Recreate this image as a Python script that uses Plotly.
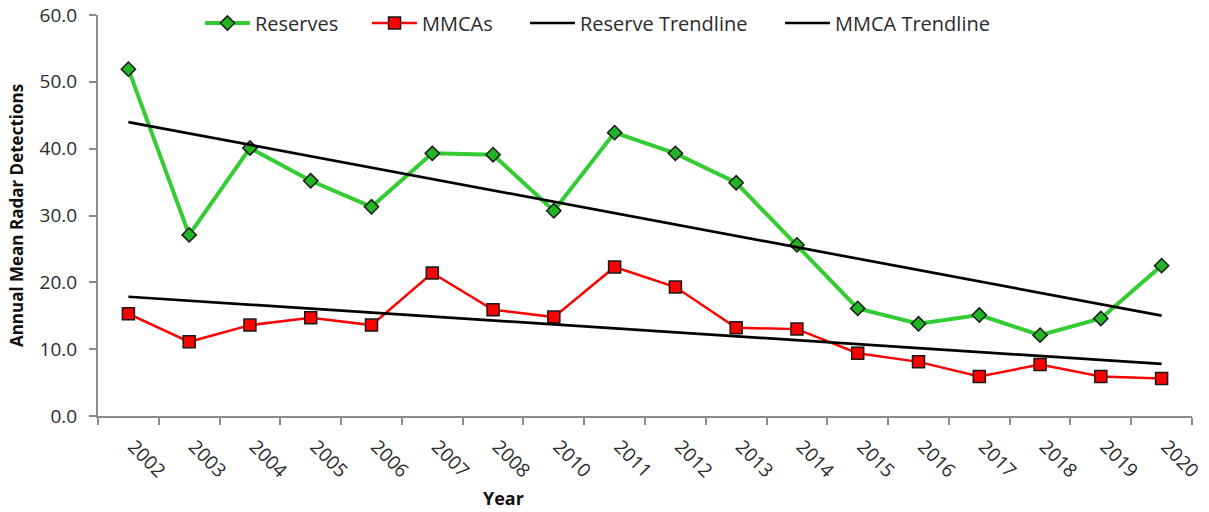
import numpy as np
import plotly.graph_objects as go

years = ["2002", "2003", "2004", "2005", "2006", "2007", "2008", "2010", "2011",
         "2012", "2013", "2014", "2015", "2016", "2017", "2018", "2019", "2020"]
reserves = [51.9, 27.1, 40.1, 35.2, 31.3, 39.3, 39.1, 30.7, 42.4,
            39.3, 34.9, 25.6, 16.1, 13.8, 15.1, 12.1, 14.6, 22.5]
mmcas = [15.3, 11.1, 13.6, 14.7, 13.6, 21.4, 15.9, 14.8, 22.3,
         19.3, 13.2, 13.0, 9.4, 8.1, 5.9, 7.7, 5.9, 5.6]

idx = np.arange(len(years))
r_fit = np.polyval(np.polyfit(idx, reserves, 1), idx)
m_fit = np.polyval(np.polyfit(idx, mmcas, 1), idx)

FONT = "Open Sans"
TXT = "#2b2b2b"

fig = go.Figure()
fig.add_trace(go.Scatter(
    x=years, y=reserves, name="Reserves", mode="lines+markers", legend="legend",
    line=dict(color="#33CC33", width=4),
    marker=dict(symbol="diamond", size=11, color="#22B422",
                line=dict(color="#1a1a1a", width=1.5))))
fig.add_trace(go.Scatter(
    x=years, y=mmcas, name="MMCAs", mode="lines+markers", legend="legend2",
    line=dict(color="#FF0000", width=2.5),
    marker=dict(symbol="square", size=12, color="#FF0000",
                line=dict(color="#1a1a1a", width=1.5))))
fig.add_trace(go.Scatter(
    x=years, y=r_fit, name="Reserve Trendline", mode="lines", legend="legend3",
    line=dict(color="#000000", width=2.7)))
fig.add_trace(go.Scatter(
    x=years, y=m_fit, name="MMCA Trendline", mode="lines", legend="legend4",
    line=dict(color="#000000", width=2.7)))

def leg(x):
    return dict(orientation="h", x=x, y=0.98, xanchor="left", yanchor="middle",
                font=dict(size=20, color=TXT, family=FONT),
                bgcolor="rgba(0,0,0,0)", itemwidth=45)

fig.update_layout(
    width=1209, height=512,
    margin=dict(l=98, r=17, t=15, b=96, autoexpand=False),
    paper_bgcolor="white", plot_bgcolor="white",
    font=dict(family=FONT, color=TXT, size=19),
    showlegend=True,
    legend=leg(0.0932), legend2=leg(0.2459), legend3=leg(0.3903), legend4=leg(0.6234),
    xaxis=dict(
        type="category", range=[-0.5, 17.5], tickangle=45, tickson="boundaries",
        automargin=False, ticklabelstandoff=10, ticklabelshift=5,
        showline=True, linecolor="#8c8c8c", linewidth=2,
        ticks="outside", ticklen=7, tickcolor="#8c8c8c", tickwidth=2,
        showgrid=False, zeroline=False,
        tickfont=dict(size=19, color=TXT),
    ),
    yaxis=dict(
        range=[0, 60], dtick=10, tickformat=".1f", automargin=False,
        ticklabeloverflow="allow", ticklabelstandoff=8,
        showline=True, linecolor="#8c8c8c", linewidth=2,
        ticks="outside", ticklen=7, tickcolor="#8c8c8c", tickwidth=2,
        showgrid=False, zeroline=False,
        tickfont=dict(size=19, color=TXT),
        title=dict(text="<b>Annual Mean Radar Detections</b>",
                   font=dict(size=17, color="#111111"), standoff=12),
    ),
    annotations=[dict(text="<b>Year</b>", xref="paper", yref="paper",
                      x=0.371, y=-0.2045, xanchor="center", yanchor="middle",
                      showarrow=False, font=dict(size=18, color="#111111"))],
)

fig.write_html("out.html", config={"displayModeBar": False},
               post_script="document.body.style.margin='0px';")
